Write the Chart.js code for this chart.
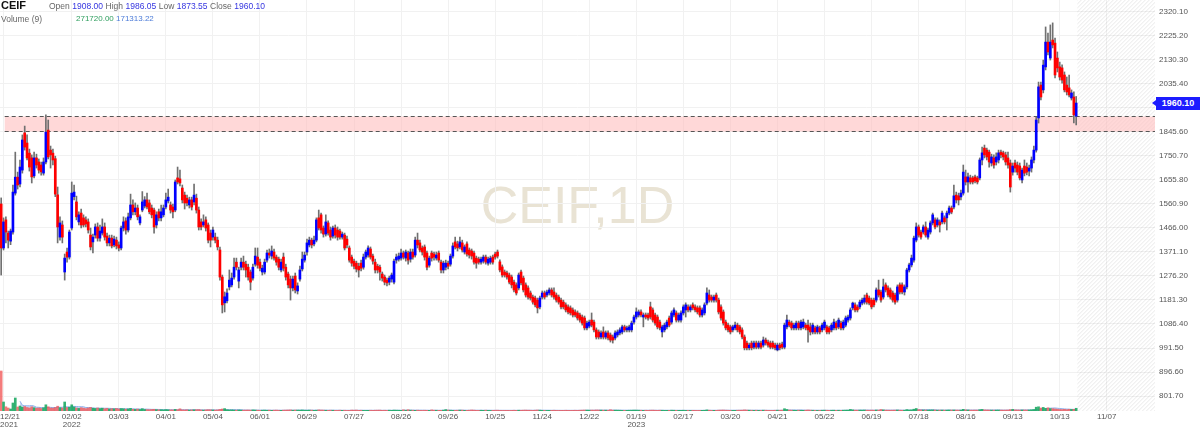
<!DOCTYPE html>
<html>
<head>
<meta charset="utf-8">
<title>CEIF 1D</title>
<script src="https://cdn.jsdelivr.net/npm/chart.js@4.4.1/dist/chart.umd.min.js"></script>
<style>
  html, body { margin: 0; padding: 0; background: #fff; }
  #wrap { position: relative; width: 1200px; height: 429px; overflow: hidden; font-family: "Liberation Sans", Arial, sans-serif; }
  #chart { position: absolute; left: 0; top: 0; z-index: 1; }
  #watermark { position: absolute; z-index: 0; left: 0; width: 1155px; top: 179px; text-align: center; font-size: 52px; line-height: 52px; color: #e9e3d4; }
  .row { position: absolute; z-index: 2; font-size: 8.5px; line-height: 10px; white-space: nowrap; color: #666; }
  .row span { margin-right: 2.5px; }
  .row .val { color: #3535e0; }
  .row .vol { color: #2e9e5e; font-size: 8px; }
  .row .ma { color: #4b7bd8; font-size: 8px; }
  #name { position: absolute; z-index: 2; left: 1px; top: 0; font-size: 11px; line-height: 11px; font-weight: bold; color: #111; }
  #first-tick { position: absolute; z-index: 2; left: 0; top: 413px; width: 18px; text-align: center; font-size: 8px; line-height: 8px; color: #555; }
  #price-tag { position: absolute; z-index: 2; left: 1156px; width: 44px; height: 13px; line-height: 13px; background: #1c1cff; color: #fff; font-size: 9px; font-weight: bold; text-align: center; }
  #price-tag::before { content: ''; position: absolute; left: -4px; top: 3px; border-top: 3.5px solid transparent; border-bottom: 3.5px solid transparent; border-right: 4px solid #1c1cff; }
</style>
</head>
<body>
<div id="wrap">
  <div id="watermark">CEIF,1D</div>
  <canvas id="chart" width="1200" height="429"></canvas>
  <div id="name">CEIF</div>
  <div class="row" id="row1" style="left:49px;top:1px"></div>
  <div class="row" id="row2" style="left:1px;top:14px"></div>
  <div id="first-tick">12/21<br>2021</div>
  <div id="price-tag"></div>
</div>
<script>
const opens = [
  1561,1387,1498,1446,1414,1450,1604,1667,1640,1695,
  1842,1802,1762,1743,1672,1743,1727,1715,1683,1727,
  1853,1774,1762,1740,1597,1430,1478,1292,1371,1351,
  1466,1590,1569,1490,1525,1506,1498,1490,1438,1411,
  1438,1470,1426,1446,1470,1434,1407,1426,1399,1418,
  1399,1387,1466,1494,1458,1506,1557,1530,1545,1486,
  1537,1553,1577,1565,1545,1537,1478,1530,1506,1518,
  1549,1573,1557,1549,1537,1664,1660,1624,1596,1584,
  1557,1577,1569,1584,1537,1490,1478,1498,1478,1446,
  1430,1430,1418,1379,1272,1170,1178,1233,1241,1272,
  1331,1256,1311,1331,1323,1311,1292,1268,1323,1351,
  1331,1292,1292,1339,1367,1355,1371,1351,1343,1300,
  1351,1311,1284,1264,1229,1276,1217,1264,1304,1339,
  1371,1399,1418,1403,1418,1506,1518,1466,1442,1486,
  1458,1434,1466,1458,1454,1430,1438,1422,1387,1351,
  1335,1327,1315,1327,1311,1351,1359,1383,1355,1331,
  1315,1311,1284,1272,1260,1252,1264,1252,1339,1343,
  1347,1367,1347,1367,1343,1371,1359,1418,1407,1387,
  1391,1367,1319,1367,1363,1347,1367,1331,1300,1311,
  1327,1323,1355,1411,1403,1391,1407,1371,1403,1379,
  1375,1367,1347,1343,1331,1335,1351,1327,1331,1351,
  1363,1371,1332,1312,1292,1288,1280,1272,1252,1241,
  1229,1292,1268,1241,1229,1209,1193,1189,1181,1154,
  1193,1209,1201,1209,1221,1213,1201,1193,1181,1173,
  1162,1154,1150,1142,1134,1130,1122,1114,1110,1071,
  1078,1102,1094,1063,1055,1035,1055,1035,1051,1043,
  1035,1031,1043,1051,1055,1075,1063,1063,1063,1094,
  1114,1122,1134,1114,1122,1122,1154,1142,1122,1114,
  1094,1055,1063,1075,1110,1094,1122,1130,1102,1102,
  1130,1142,1154,1142,1162,1154,1150,1150,1122,1130,
  1169,1201,1193,1181,1201,1181,1154,1134,1094,1082,
  1075,1063,1071,1082,1075,1063,1035,1011,992,1011,
  995,1011,995,1011,1003,1023,1015,1011,1011,1003,
  984,1003,1007,995,1075,1094,1090,1071,1071,1090,
  1071,1075,1082,1082,1075,1055,1071,1055,1071,1063,
  1071,1075,1071,1063,1071,1090,1075,1090,1071,1082,
  1102,1110,1150,1162,1154,1154,1169,1173,1201,1189,
  1181,1181,1181,1221,1213,1193,1241,1229,1221,1209,
  1201,1181,1241,1241,1213,1233,1300,1320,1339,1418,
  1470,1450,1450,1470,1430,1450,1486,1498,1478,1490,
  1490,1506,1506,1525,1545,1549,1596,1593,1589,1604,
  1668,1648,1664,1664,1668,1664,1664,1735,1782,1774,
  1766,1723,1743,1727,1735,1766,1763,1755,1743,1723,
  1687,1723,1715,1711,1656,1711,1707,1691,1703,1735,
  1774,1901,2031,2012,2103,2201,2138,2209,2197,2138,
  2103,2099,2071,2031,2020,1980,1984,1908
];

const highs = [
  1585,1506,1510,1454,1462,1636,1766,1687,1735,1834,
  1869,1834,1778,1755,1766,1758,1739,1727,1743,1913,
  1893,1790,1778,1750,1628,1510,1494,1363,1387,1458,
  1648,1636,1592,1530,1541,1518,1510,1502,1466,1442,
  1482,1486,1478,1502,1486,1446,1438,1438,1434,1430,
  1411,1474,1510,1506,1525,1600,1577,1565,1557,1518,
  1610,1590,1604,1577,1557,1545,1530,1541,1557,1557,
  1604,1620,1569,1561,1656,1707,1695,1636,1608,1596,
  1588,1588,1640,1600,1549,1502,1518,1510,1486,1458,
  1470,1446,1430,1391,1280,1213,1225,1300,1288,1347,
  1347,1311,1347,1355,1335,1323,1300,1323,1387,1387,
  1343,1319,1343,1379,1383,1395,1383,1359,1351,1343,
  1367,1323,1292,1276,1276,1288,1249,1315,1371,1371,
  1422,1430,1426,1434,1506,1537,1525,1474,1518,1494,
  1470,1474,1478,1470,1462,1450,1446,1434,1395,1359,
  1343,1335,1327,1339,1363,1379,1395,1391,1363,1343,
  1323,1319,1292,1280,1268,1276,1288,1343,1363,1367,
  1383,1375,1379,1375,1383,1383,1430,1446,1418,1395,
  1399,1375,1355,1375,1371,1371,1375,1339,1335,1339,
  1335,1363,1407,1430,1414,1430,1418,1399,1411,1387,
  1383,1375,1355,1351,1351,1359,1359,1351,1355,1359,
  1371,1379,1340,1320,1300,1296,1288,1280,1260,1249,
  1288,1300,1276,1249,1237,1217,1201,1197,1189,1197,
  1217,1217,1221,1229,1229,1229,1209,1201,1189,1181,
  1170,1162,1158,1150,1142,1138,1130,1122,1118,1098,
  1102,1130,1102,1071,1063,1059,1075,1059,1059,1051,
  1043,1059,1063,1071,1082,1082,1078,1082,1098,1122,
  1150,1142,1142,1130,1130,1130,1173,1150,1130,1122,
  1102,1082,1090,1102,1118,1138,1150,1138,1130,1138,
  1162,1170,1162,1162,1170,1162,1158,1158,1150,1170,
  1229,1221,1201,1201,1209,1189,1162,1142,1102,1090,
  1082,1082,1094,1090,1082,1071,1043,1019,1011,1019,
  1019,1019,1019,1019,1035,1031,1023,1019,1019,1011,
  1011,1011,1015,1090,1122,1102,1098,1090,1098,1098,
  1102,1106,1090,1102,1090,1090,1078,1082,1078,1090,
  1102,1082,1078,1090,1106,1098,1110,1098,1102,1118,
  1122,1150,1173,1170,1162,1181,1189,1201,1209,1197,
  1189,1189,1229,1260,1221,1264,1249,1237,1229,1217,
  1209,1241,1249,1249,1241,1307,1327,1359,1434,1486,
  1478,1458,1478,1490,1466,1494,1525,1506,1506,1498,
  1533,1514,1533,1553,1553,1636,1608,1604,1616,1715,
  1695,1683,1675,1671,1675,1671,1743,1786,1794,1782,
  1774,1758,1755,1763,1774,1774,1770,1766,1766,1735,
  1723,1735,1727,1723,1703,1735,1723,1715,1747,1790,
  1905,2043,2043,2130,2261,2237,2269,2277,2217,2162,
  2122,2111,2083,2063,2071,2012,2004,1986.05
];

const lows = [
  1280,1379,1407,1387,1400,1442,1596,1620,1628,1683,
  1774,1735,1691,1644,1664,1703,1683,1675,1675,1719,
  1739,1703,1715,1590,1407,1418,1407,1260,1331,1343,
  1458,1577,1498,1478,1466,1470,1470,1446,1379,1367,
  1426,1414,1414,1438,1418,1395,1395,1387,1391,1383,
  1375,1379,1454,1442,1450,1498,1518,1518,1498,1478,
  1530,1545,1541,1522,1506,1446,1466,1494,1494,1510,
  1541,1565,1525,1506,1530,1640,1632,1565,1541,1553,
  1545,1537,1557,1525,1458,1458,1470,1454,1407,1391,
  1418,1407,1379,1260,1130,1134,1170,1221,1233,1264,
  1300,1229,1300,1300,1272,1260,1221,1260,1315,1307,
  1296,1280,1284,1331,1347,1343,1339,1319,1300,1292,
  1296,1260,1229,1181,1217,1209,1205,1256,1296,1331,
  1359,1391,1387,1395,1411,1458,1446,1430,1434,1438,
  1418,1426,1426,1418,1422,1422,1379,1387,1331,1315,
  1304,1292,1272,1296,1303,1343,1351,1343,1323,1288,
  1288,1260,1256,1241,1237,1241,1252,1245,1327,1335,
  1339,1343,1335,1323,1331,1343,1351,1387,1371,1359,
  1339,1300,1311,1335,1339,1339,1331,1288,1288,1300,
  1304,1315,1347,1383,1375,1383,1371,1363,1355,1347,
  1343,1323,1307,1323,1323,1327,1323,1319,1323,1323,
  1343,1347,1292,1272,1272,1264,1245,1229,1213,1201,
  1221,1241,1213,1193,1185,1181,1165,1154,1130,1146,
  1185,1185,1193,1201,1193,1185,1173,1165,1146,1146,
  1134,1126,1122,1114,1114,1102,1094,1082,1063,1063,
  1071,1075,1055,1027,1027,1027,1027,1027,1023,1015,
  1011,1023,1035,1043,1047,1055,1055,1055,1055,1086,
  1106,1114,1114,1075,1106,1102,1106,1094,1082,1067,
  1063,1035,1055,1067,1075,1086,1114,1094,1094,1094,
  1122,1114,1134,1134,1142,1134,1126,1114,1114,1122,
  1162,1173,1173,1173,1173,1126,1102,1082,1063,1055,
  1047,1055,1063,1055,1047,1027,984,984,984,984,
  988,988,988,988,995,1003,995,988,988,984,
  980,984,988,988,1067,1075,1063,1063,1063,1063,
  1063,1067,1063,1015,1043,1047,1047,1047,1047,1055,
  1063,1047,1047,1055,1063,1063,1067,1063,1063,1075,
  1094,1102,1142,1134,1134,1146,1162,1165,1165,1162,
  1146,1154,1173,1193,1173,1185,1213,1193,1185,1173,
  1165,1173,1205,1205,1201,1225,1292,1312,1331,1411,
  1430,1422,1442,1430,1422,1442,1478,1462,1470,1450,
  1482,1482,1458,1518,1522,1541,1565,1557,1577,1596,
  1636,1608,1640,1640,1644,1640,1656,1715,1743,1735,
  1707,1711,1703,1715,1723,1743,1735,1715,1703,1608,
  1675,1687,1676,1656,1644,1672,1676,1672,1687,1723,
  1766,1881,1972,2000,2091,2150,2130,2178,2059,2083,
  2051,2039,2004,1992,1984,1972,1881,1873.55
];

const closes = [
  1387,1490,1450,1418,1454,1608,1667,1636,1707,1814,
  1786,1743,1707,1668,1743,1715,1695,1688,1727,1845,
  1747,1755,1735,1600,1470,1486,1430,1347,1351,1450,
  1604,1608,1510,1518,1478,1478,1482,1458,1391,1430,
  1470,1426,1454,1470,1430,1407,1426,1395,1422,1395,
  1387,1466,1490,1458,1510,1557,1530,1545,1510,1510,
  1569,1577,1549,1530,1518,1470,1518,1506,1530,1545,
  1577,1588,1537,1530,1648,1648,1644,1577,1565,1565,
  1577,1549,1596,1537,1470,1470,1490,1466,1418,1418,
  1458,1418,1391,1272,1162,1194,1209,1260,1268,1311,
  1311,1300,1331,1311,1300,1272,1252,1311,1355,1319,
  1307,1307,1331,1367,1359,1375,1347,1331,1311,1331,
  1307,1272,1241,1229,1264,1221,1237,1300,1343,1359,
  1407,1418,1399,1418,1498,1466,1458,1442,1490,1446,
  1430,1466,1438,1430,1430,1442,1387,1399,1339,1327,
  1315,1304,1300,1307,1351,1371,1387,1351,1335,1300,
  1300,1292,1268,1252,1249,1268,1280,1335,1351,1355,
  1367,1351,1371,1339,1371,1351,1418,1399,1379,1371,
  1351,1311,1347,1347,1351,1359,1339,1300,1327,1327,
  1315,1355,1395,1391,1387,1411,1379,1391,1363,1359,
  1355,1331,1327,1331,1343,1351,1331,1343,1347,1331,
  1351,1355,1300,1280,1280,1272,1252,1241,1221,1209,
  1280,1249,1221,1201,1193,1189,1173,1162,1150,1189,
  1209,1193,1213,1221,1201,1193,1181,1173,1154,1154,
  1142,1134,1130,1122,1122,1110,1102,1090,1071,1090,
  1094,1082,1063,1035,1035,1051,1035,1051,1031,1023,
  1023,1051,1055,1063,1075,1063,1071,1075,1090,1114,
  1134,1134,1122,1122,1114,1110,1114,1102,1090,1075,
  1071,1075,1082,1094,1082,1130,1142,1102,1122,1130,
  1154,1162,1142,1154,1150,1142,1134,1122,1142,1162,
  1209,1181,1181,1193,1181,1134,1110,1090,1071,1063,
  1055,1075,1082,1063,1055,1035,992,992,1003,992,
  1011,995,1011,995,1023,1011,1003,995,995,992,
  1003,992,995,1082,1102,1082,1071,1082,1090,1071,
  1094,1094,1071,1063,1055,1082,1055,1075,1055,1082,
  1094,1055,1055,1082,1094,1071,1102,1071,1094,1110,
  1114,1142,1169,1142,1142,1173,1181,1189,1173,1169,
  1154,1162,1221,1201,1181,1233,1221,1201,1193,1181,
  1173,1233,1213,1213,1233,1300,1320,1347,1426,1470,
  1438,1430,1470,1438,1458,1486,1518,1470,1498,1478,
  1525,1490,1525,1545,1529,1593,1577,1577,1604,1687,
  1648,1668,1648,1648,1652,1648,1735,1763,1755,1747,
  1727,1747,1715,1747,1763,1755,1747,1727,1715,1628,
  1711,1703,1687,1664,1695,1683,1687,1703,1735,1774,
  1893,2024,1984,2110,2201,2162,2201,2190,2071,2099,
  2063,2051,2012,2004,1992,2000,1913,1960.1
];

const volumes = [
  4000000,900000,420000,300000,200000,800000,1300000,400000,500000,380000,
  450000,350000,300000,420000,330000,280000,300000,250000,320000,620000,
  420000,300000,280000,350000,480000,330000,300000,900000,350000,380000,
  620000,400000,300000,260000,330000,280000,240000,300000,350000,280000,
  250000,300000,240000,280000,220000,260000,200000,230000,210000,250000,
  200000,240000,220000,180000,210000,260000,170000,160000,190000,150000,
  230000,150000,140000,130000,150000,170000,140000,120000,130000,110000,
  140000,120000,110000,100000,160000,130000,220000,110000,100000,120000,
  90000,110000,120000,130000,140000,100000,90000,110000,130000,120000,
  100000,90000,110000,160000,200000,240000,120000,100000,110000,90000,
  80000,100000,90000,80000,90000,100000,85000,110000,95000,80000,
  70000,80000,90000,75000,85000,70000,80000,90000,75000,70000,
  85000,90000,100000,110000,80000,95000,90000,85000,100000,80000,
  75000,90000,85000,70000,80000,110000,95000,85000,75000,70000,
  80000,75000,70000,65000,80000,70000,75000,60000,70000,90000,
  80000,95000,70000,75000,65000,60000,70000,75000,65000,80000,
  85000,90000,70000,75000,60000,80000,70000,90000,80000,75000,
  70000,120000,80000,130000,85000,75000,70000,80000,65000,60000,
  75000,70000,65000,110000,80000,75000,70000,65000,85000,140000,
  90000,80000,70000,65000,75000,90000,85000,70000,65000,80000,
  100000,85000,70000,65000,75000,70000,80000,65000,60000,70000,
  75000,80000,65000,60000,70000,65000,60000,70000,75000,65000,
  80000,75000,85000,90000,80000,75000,70000,80000,95000,85000,
  70000,65000,60000,70000,65000,75000,70000,60000,65000,70000,
  75000,70000,65000,70000,75000,70000,80000,85000,95000,90000,
  80000,90000,85000,100000,95000,90000,80000,85000,75000,130000,
  80000,85000,80000,75000,70000,65000,70000,75000,80000,90000,
  85000,80000,75000,70000,75000,70000,80000,85000,75000,70000,
  80000,75000,70000,65000,70000,80000,75000,70000,65000,70000,
  75000,70000,65000,60000,70000,65000,60000,70000,65000,75000,
  110000,80000,70000,65000,70000,85000,90000,95000,80000,75000,
  70000,65000,70000,75000,80000,85000,110000,90000,80000,75000,
  70000,75000,70000,65000,80000,75000,70000,65000,70000,75000,
  80000,75000,85000,230000,150000,90000,80000,75000,70000,80000,
  75000,70000,80000,100000,85000,75000,70000,65000,70000,75000,
  80000,75000,70000,75000,80000,70000,75000,70000,80000,85000,
  90000,160000,110000,85000,80000,90000,85000,95000,80000,75000,
  85000,80000,100000,90000,150000,110000,85000,80000,75000,80000,
  85000,100000,80000,75000,80000,140000,100000,110000,180000,250000,
  130000,110000,100000,95000,90000,100000,110000,95000,85000,90000,
  95000,85000,90000,100000,95000,100000,90000,85000,90000,170000,
  110000,100000,85000,80000,90000,85000,130000,160000,110000,100000,
  95000,90000,85000,90000,95000,90000,85000,90000,100000,140000,
  160000,110000,100000,95000,105000,100000,95000,100000,120000,150000,
  380000,420000,300000,360000,260000,320000,240000,230000,200000,180000,
  150000,140000,165000,130000,175000,160000,170099,271720
];

// date ticks: bar index -> label (year on a second line)
const tickBars = [1, 30, 50, 70, 90, 110, 130, 150, 170, 190, 210, 230, 250, 270, 290, 310, 330, 350, 370, 390, 410, 430, 450, 470];
const tickLabels = [
  ['12/21', '2021'], ['02/02', '2022'], '03/03', '04/01', '05/04', '06/01', '06/29', '07/27',
  '08/26', '09/26', '10/25', '11/24', '12/22', ['01/19', '2023'], '02/17', '03/20', '04/21',
  '05/22', '06/19', '07/18', '08/16', '09/13', '10/13', '11/07'
];
const priceTicks = [801.7, 896.6, 991.5, 1086.4, 1181.3, 1276.2, 1371.1, 1466.0, 1560.9, 1655.8, 1750.7, 1845.6, 1940.5, 2035.4, 2130.3, 2225.2, 2320.1];
const zoneHigh = 1909.5;
const zoneLow = 1851;

const slotCount = 491;
const last = closes.length - 1;
const slots = Array.from({ length: slotCount }, (_, i) => String(i));
const isUp = closes.map((c, i) => c >= opens[i]);
const volMA = volumes.map((v, i) => (i < 8 ? null : volumes.slice(i - 8, i + 1).reduce((a, b) => a + b, 0) / 9));

const upColor = '#0000ff';
const downColor = '#ff0000';

const zonePlugin = {
  id: 'zone',
  beforeDatasetsDraw(chart) {
    const { ctx, chartArea: a, scales: { x, y } } = chart;
    const step = x.getPixelForValue(1) - x.getPixelForValue(0);

    // hatched area after the last bar
    const hx = x.getPixelForValue(last) + step / 2;
    const h = a.bottom - a.top;
    ctx.save();
    ctx.beginPath();
    ctx.rect(hx, a.top, a.right - hx, h);
    ctx.clip();
    ctx.strokeStyle = 'rgba(0,0,0,0.09)';
    ctx.lineWidth = 1;
    for (let k = hx - h; k < a.right; k += 4) {
      ctx.beginPath();
      ctx.moveTo(k, a.bottom);
      ctx.lineTo(k + h, a.top);
      ctx.stroke();
    }
    ctx.restore();

    // resistance zone
    const x0 = x.getPixelForValue(1) + step / 2;
    const yT = Math.round(y.getPixelForValue(zoneHigh)) + 0.5;
    const yB = Math.round(y.getPixelForValue(zoneLow)) + 0.5;
    ctx.save();
    ctx.fillStyle = 'rgba(255,190,190,0.6)';
    ctx.fillRect(x0, yT, a.right - x0, yB - yT);
    ctx.strokeStyle = '#555';
    ctx.lineWidth = 1;
    ctx.setLineDash([4, 3]);
    [yT, yB].forEach((yy) => {
      ctx.beginPath();
      ctx.moveTo(x0, yy);
      ctx.lineTo(a.right, yy);
      ctx.stroke();
    });
    ctx.restore();
  },
};

Chart.defaults.font.family = '"Liberation Sans", Arial, sans-serif';

const chart = new Chart(document.getElementById('chart').getContext('2d'), {
  type: 'bar',
  data: {
    labels: slots,
    datasets: [
      {
        label: 'body', data: opens.map((o, i) => [o, closes[i]]),
        backgroundColor: isUp.map((u) => (u ? upColor : downColor)),
        barThickness: 2, minBarLength: 1, grouped: false, order: 1, yAxisID: 'y',
      },
      {
        label: 'wick', data: lows.map((l, i) => [l, highs[i]]),
        backgroundColor: '#707070', barThickness: 1, grouped: false, order: 2, yAxisID: 'y',
      },
      {
        label: 'volume', data: volumes,
        backgroundColor: isUp.map((u) => (u ? 'rgba(30,170,100,0.9)' : 'rgba(240,80,80,0.75)')),
        barThickness: 2, grouped: false, order: 3, yAxisID: 'yVol',
      },
      {
        type: 'line', label: 'volume ma', data: volMA,
        borderColor: '#8fb0ea', backgroundColor: 'rgba(160,190,240,0.55)', borderWidth: 1,
        fill: 'origin', pointRadius: 0, tension: 0, order: 4, yAxisID: 'yVol',
      },
    ],
  },
  options: {
    responsive: false,
    animation: false,
    devicePixelRatio: 1,
    layout: { padding: 0 },
    plugins: { legend: { display: false }, tooltip: { enabled: false } },
    scales: {
      x: {
        type: 'category',
        offset: true,
        grid: { offset: false, color: '#f1f1f1', drawTicks: false },
        border: { display: false },
        ticks: {
          autoSkip: false, maxRotation: 0, minRotation: 0, padding: 2,
          color: '#555', font: { size: 8, lineHeight: 1 },
          callback: (v, i) => (i === 0 ? '' : tickLabels[i]),
        },
        afterBuildTicks: (s) => { s.ticks = tickBars.map((v) => ({ value: v })); },
        afterFit: (s) => { s.height = 18; s.paddingLeft = 0; s.paddingRight = 0; },
      },
      y: {
        position: 'right',
        min: 742.4,
        max: 2367.5,
        grid: { color: '#f1f1f1', drawTicks: false },
        border: { display: false },
        ticks: { padding: 4, color: '#555', font: { size: 8 }, callback: (v) => Number(v).toFixed(2) },
        afterBuildTicks: (s) => { s.ticks = priceTicks.map((v) => ({ value: v })); },
        afterFit: (s) => { s.width = 45; s.paddingTop = 0; s.paddingBottom = 0; },
      },
      yVol: { display: false, min: 0, max: 41100000 },
    },
  },
  plugins: [zonePlugin],
});

// header legend, values taken from the last bar
const fmt = (v) => Number(v).toFixed(2);
const addSpans = (rowId, items) => {
  const row = document.getElementById(rowId);
  items.forEach(([text, cls, left]) => {
    const el = document.createElement('span');
    if (cls) el.className = cls;
    if (left !== undefined) {
      el.style.position = 'absolute';
      el.style.left = left + 'px';
    }
    el.textContent = text;
    row.appendChild(el);
  });
};
addSpans('row1', [
  ['Open', ''], [fmt(opens[last]), 'val'],
  ['High', ''], [fmt(highs[last]), 'val'],
  ['Low', ''], [fmt(lows[last]), 'val'],
  ['Close', ''], [fmt(closes[last]), 'val'],
]);
addSpans('row2', [
  ['Volume (9)', ''],
  [fmt(volumes[last]), 'vol', 75],
  [fmt(volMA[last]), 'ma', 115],
]);

const tag = document.getElementById('price-tag');
tag.textContent = fmt(closes[last]);
tag.style.top = (chart.scales.y.getPixelForValue(closes[last]) - 6.5) + 'px';
</script>
</body>
</html>
